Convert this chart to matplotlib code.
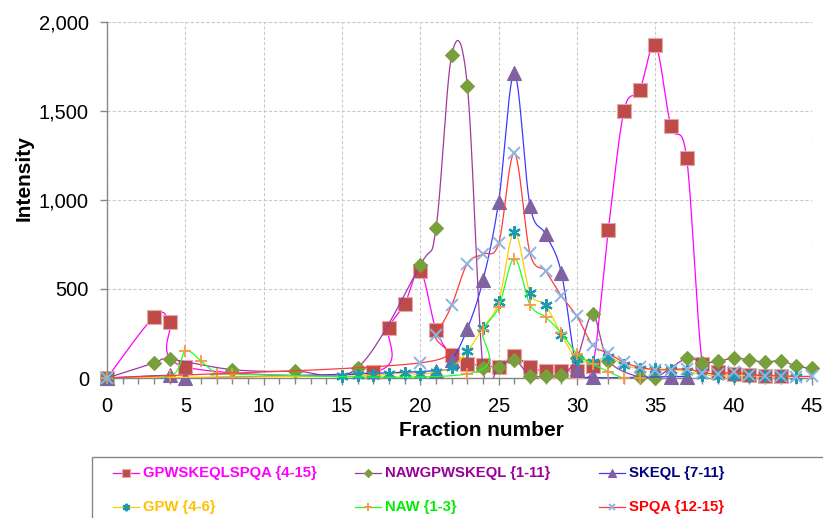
import numpy as np
import matplotlib
matplotlib.use("Agg")
import matplotlib.pyplot as plt
from matplotlib.lines import Line2D
from matplotlib.patches import Rectangle
from matplotlib.ticker import MultipleLocator, FuncFormatter

plt.rcParams['font.family'] = ['Liberation Sans', 'DejaVu Sans']

# series: fraction numbers and intensities
labels = ["GPWSKEQLSPQA {4-15}", "NAWGPWSKEQL {1-11}", "SKEQL {7-11}",
          "GPW {4-6}", "NAW {1-3}", "SPQA {12-15}"]

s1_x = [0, 3, 4, 5, 17, 18, 19, 20, 21, 22, 23, 24, 25, 26, 27, 28, 29, 30,
        31, 32, 33, 34, 35, 36, 37, 38, 39, 40, 41, 42, 43]
s1_y = [0, 343, 315, 62, 33, 283, 416, 602, 271, 130, 79, 75, 64, 126, 60, 38,
        41, 38, 66, 831, 1502, 1617, 1871, 1414, 1235, 79, 32, 23, 19, 13, 13]

s2_x = [0, 3, 4, 8, 12, 16, 20, 21, 22, 23, 24, 25, 26, 27, 28, 29, 30, 31, 32,
        34, 35, 37, 38, 39, 40, 41, 42, 43, 44, 45]
s2_y = [0, 84, 105, 47, 38, 58, 636, 840, 1814, 1643, 56, 64, 103, 13, 13, 19,
        110, 357, 98, 4, 2, 111, 85, 94, 111, 103, 88, 98, 66, 54]

s3_x = [0, 4, 5, 21, 22, 23, 24, 25, 26, 27, 28, 29, 30, 31, 36, 37]
s3_y = [0, 15, 0, 41, 100, 276, 549, 991, 1711, 968, 807, 592, 51, 4, 8, 8]

s4_x = [0, 15, 16, 17, 18, 19, 20, 21, 22, 23, 24, 25, 26, 27, 28, 29, 30, 31,
        32, 33, 34, 35, 36, 37, 38, 39, 40, 41, 42, 43, 44]
s4_y = [0, 10, 17, 15, 21, 26, 20, 35, 60, 149, 282, 427, 822, 478, 408, 244,
        107, 92, 117, 75, 51, 51, 47, 38, 19, 13, 13, 13, 10, 13, 8]

s5_x = [0, 4, 5, 6, 7, 8, 23, 24, 25, 26, 27, 28, 29, 30, 31, 32, 33, 34]
s5_y = [0, 9, 150, 96, 24, 21, 23, 267, 398, 671, 412, 342, 252, 135, 79, 36, 0, 0]

s6_x = [0, 20, 21, 22, 23, 24, 25, 26, 27, 28, 29, 30, 31, 32, 33, 34, 35, 36,
        37, 38, 39, 40, 41, 42, 43, 44, 45]
s6_y = [0, 85, 239, 408, 643, 696, 756, 1263, 700, 600, 461, 346, 186, 139, 88,
        60, 47, 47, 51, 30, 23, 32, 19, 13, 13, 8, 10]


def smooth(x, y, n=24):
    # excel-like smoothed scatter line (catmull-rom as bezier)
    p = np.column_stack([x, y]).astype(float)
    p = np.vstack([p[0], p, p[-1]])
    t = np.linspace(0, 1, n, endpoint=False)[:, None]
    segs = []
    for i in range(1, len(p) - 2):
        p0, p1, p2, p3 = p[i - 1], p[i], p[i + 1], p[i + 2]
        c1 = p1 + (p2 - p0) / 6
        c2 = p2 - (p3 - p1) / 6
        segs.append((1 - t) ** 3 * p1 + 3 * (1 - t) ** 2 * t * c1
                    + 3 * (1 - t) * t ** 2 * c2 + t ** 3 * p2)
    segs.append(p[-2][None])
    s = np.vstack(segs)
    return s[:, 0], s[:, 1]


series = [
    (s1_x, s1_y, '#FF00FF', dict(marker='s', ms=10, mfc='#BE4B48', mec='#E3A9A7', mew=0.8), '#FF00FF'),
    (s2_x, s2_y, '#9E3A9E', dict(marker='D', ms=7.5, mfc='#77A03C', mec='#77A03C', mew=0.8), '#990099'),
    (s3_x, s3_y, '#3B3BFF', dict(marker='^', ms=10, mfc='#7F629F', mec='#7F629F', mew=0.8), '#000080'),
    (s4_x, s4_y, '#FFCC00', dict(marker=(6, 2, 0), ms=9, mfc='none', mec='#1E9AB0', mew=1.6), '#FFC000'),
    (s5_x, s5_y, '#22FF22', dict(marker='+', ms=9, mfc='none', mec='#F79646', mew=1.3), '#00EE00'),
    (s6_x, s6_y, '#FF3B3B', dict(marker='x', ms=8, mfc='none', mec='#8DB4E2', mew=1.4), '#FF0000'),
]

fig = plt.figure(figsize=(8.23, 5.18), dpi=100)
W, H = 823, 518
ax = fig.add_axes([107 / W, 1 - 378 / H, 705 / W, 356 / H])

for k, (xs, ys, lc, mk, tc) in enumerate(series):
    sx, sy = smooth(xs, ys)
    ax.plot(sx, sy, color=lc, lw=0.9, zorder=3 + k, clip_on=True)
    ax.plot(xs, ys, ls='none', zorder=3 + k, clip_on=False, **mk)

ax.set_xlim(0, 45)
ax.set_ylim(0, 2000)
ax.xaxis.set_major_locator(MultipleLocator(5))
ax.xaxis.set_minor_locator(MultipleLocator(1))
ax.yaxis.set_major_locator(MultipleLocator(500))
ax.yaxis.set_major_formatter(FuncFormatter(lambda v, p: f"{int(v):,}"))
ax.grid(True, which='major', color='#C8C8C8', ls=(0, (3, 2)), lw=0.75, zorder=0)
ax.axvline(45, color='#C8C8C8', ls=(0, (3, 2)), lw=0.75, zorder=0)
ax.axhline(2000, color='#C8C8C8', ls=(0, (3, 2)), lw=0.75, zorder=0)
for s in ['top', 'right']:
    ax.spines[s].set_visible(False)
for s in ['left', 'bottom']:
    ax.spines[s].set_color('#868686')
    ax.spines[s].set_linewidth(1)
    ax.spines[s].set_zorder(2)
ax.tick_params(axis='both', which='major', labelsize=14.5, color='#868686',
               length=5, width=1, direction='out')
ax.tick_params(axis='x', which='major', pad=9)
ax.tick_params(axis='x', which='minor', color='#868686', length=4, width=1)
ax.tick_params(axis='y', which='major', pad=8)

ax.set_ylabel("Intensity", fontsize=15, fontweight='bold')
ax.yaxis.set_label_coords(-0.104, 0.562)
ax.set_xlabel("Fraction number", fontsize=15, fontweight='bold')
ax.xaxis.set_label_coords((481 - 107) / 705, -0.12)

# legend box (runs off the bottom/right of the image like the original)
fig.add_artist(Rectangle((92 / W, -0.1), 1.0, 1 - 457 / H + 0.1,
                         transform=fig.transFigure, fill=False,
                         edgecolor='#868686', lw=1, clip_on=False))
col_x = [113, 355, 599]
row_y = [473, 507]
for k, (xs, ys, lc, mk, tc) in enumerate(series):
    cx = col_x[k % 3]
    cy = row_y[k // 3]
    small = dict(mk)
    small['ms'] = mk['ms'] * 0.6
    fig.add_artist(Line2D([cx / W, (cx + 26) / W], [1 - cy / H, 1 - cy / H],
                          color=lc, lw=0.9, transform=fig.transFigure))
    fig.add_artist(Line2D([(cx + 13) / W], [1 - cy / H], ls='none',
                          transform=fig.transFigure, **small))
    fig.text((cx + 30) / W, 1 - cy / H, labels[k], color=tc, fontsize=10.7,
             fontweight='bold', va='center', ha='left')

fig.savefig("out.png", dpi=100)
